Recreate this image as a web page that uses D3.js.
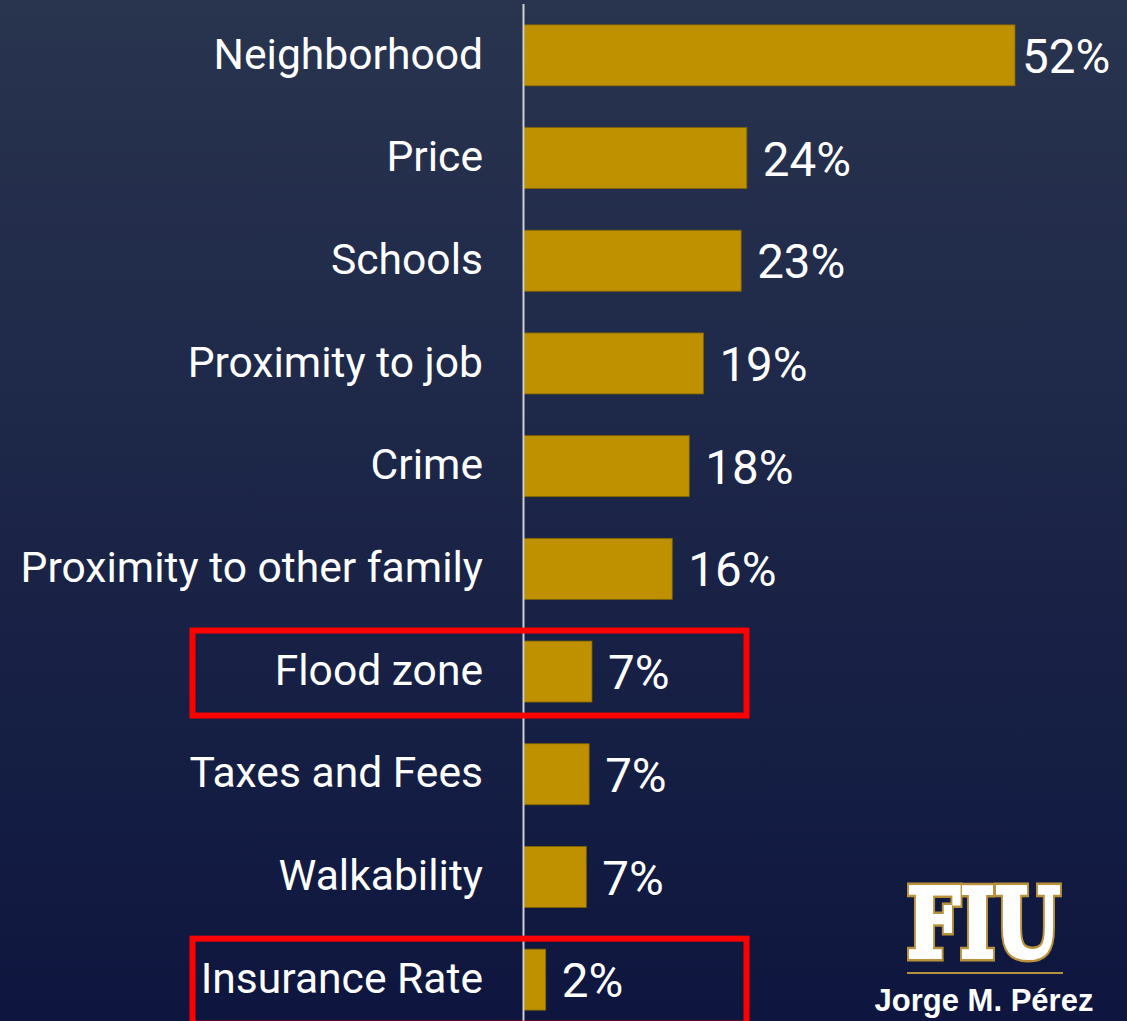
<!DOCTYPE html>
<html>
<head>
<meta charset="utf-8">
<script src="https://cdn.jsdelivr.net/npm/d3@7"></script>
<style>
  html, body { margin: 0; padding: 0; background: #0e163f; }
  svg { display: block; }
</style>
</head>
<body>
<svg id="chart"></svg>
<script>
// data
var categories = ["Neighborhood", "Price", "Schools", "Proximity to job", "Crime",
  "Proximity to other family", "Flood zone", "Taxes and Fees", "Walkability", "Insurance Rate"];
var values = [52, 23.6, 23, 19, 17.5, 15.7, 7.2, 6.9, 6.6, 2.3];
var valueLabels = ["52%", "24%", "23%", "19%", "18%", "16%", "7%", "7%", "7%", "2%"];
var highlighted = ["Flood zone", "Insurance Rate"];

var width = 1127, height = 1021;

var svg = d3.select("#chart").attr("width", width).attr("height", height);

// background gradient
var defs = svg.append("defs");
var grad = defs.append("linearGradient").attr("id", "bg")
  .attr("x1", 0).attr("y1", 0).attr("x2", 0).attr("y2", 1);
grad.append("stop").attr("offset", "0%").attr("stop-color", "#29344f");
grad.append("stop").attr("offset", "100%").attr("stop-color", "#0e163f");
svg.append("rect").attr("width", width).attr("height", height).attr("fill", "url(#bg)");

var x = d3.scaleLinear().domain([0, 52]).range([524, 1015]);
var y = d3.scaleBand().domain(categories).range([4, 1031])
  .paddingInner(0.406).paddingOuter(0.203);

var g = svg.append("g");

// bars
g.selectAll("rect.bar")
  .data(categories)
  .enter()
  .append("rect")
  .attr("class", "bar")
  .attr("x", x(0))
  .attr("y", d => y(d))
  .attr("width", (d, i) => x(values[i]) - x(0))
  .attr("height", y.bandwidth())
  .attr("fill", "#bf9000")
  .attr("stroke", "#7f6500")
  .attr("stroke-width", 0.8);

// axis line
g.append("line")
  .attr("x1", 523.5).attr("x2", 523.5)
  .attr("y1", 4).attr("y2", height)
  .attr("stroke", "#d0d0d0")
  .attr("stroke-width", 2);

// category labels
g.selectAll("text.cat")
  .data(categories)
  .enter()
  .append("text")
  .attr("class", "cat")
  .attr("x", 483)
  .attr("y", d => y(d) + y.bandwidth() / 2)
  .attr("dy", "0.31em")
  .attr("text-anchor", "end")
  .attr("fill", "#fff")
  .style("font-family", "Roboto")
  .style("font-size", "42.6px")
  .text(d => d);

// value labels
g.selectAll("text.val")
  .data(categories)
  .enter()
  .append("text")
  .attr("class", "val")
  .attr("x", (d, i) => Math.min(x(values[i]) + 16, width - 105))
  .attr("y", d => y(d) + y.bandwidth() / 2)
  .attr("dy", "0.37em")
  .attr("fill", "#fff")
  .style("font-family", "Roboto")
  .style("font-size", "47.5px")
  .text((d, i) => valueLabels[i]);

// red highlight boxes
g.selectAll("rect.hl")
  .data(highlighted)
  .enter()
  .append("rect")
  .attr("class", "hl")
  .attr("x", 192.5)
  .attr("y", d => y(d) + y.bandwidth() / 2 - 41)
  .attr("width", 554)
  .attr("height", 85)
  .attr("fill", "none")
  .attr("stroke", "#ff0000")
  .attr("stroke-width", 6);

// FIU logo
var logo = svg.append("g");
[["#b8913a", 9], ["#fff", 4]].forEach(function (s) {
  logo.append("text")
    .attr("x", 907).attr("y", 957)
    .attr("textLength", 153)
    .attr("lengthAdjust", "spacingAndGlyphs")
    .attr("fill", "#fff")
    .attr("stroke", s[0])
    .attr("stroke-width", s[1])
    .attr("stroke-linejoin", "miter")
    .style("font-family", "DejaVu Serif")
    .style("font-weight", "bold")
    .style("font-size", "96px")
    .text("FIU");
});
logo.append("line")
  .attr("x1", 907).attr("x2", 1063)
  .attr("y1", 973).attr("y2", 973)
  .attr("stroke", "#b8913a")
  .attr("stroke-width", 2);
logo.append("text")
  .attr("x", 984).attr("y", 1011)
  .attr("text-anchor", "middle")
  .attr("fill", "#fff")
  .style("font-family", "Liberation Sans")
  .style("font-weight", "bold")
  .style("font-size", "31px")
  .text("Jorge M. Pérez");
</script>
</body>
</html>
